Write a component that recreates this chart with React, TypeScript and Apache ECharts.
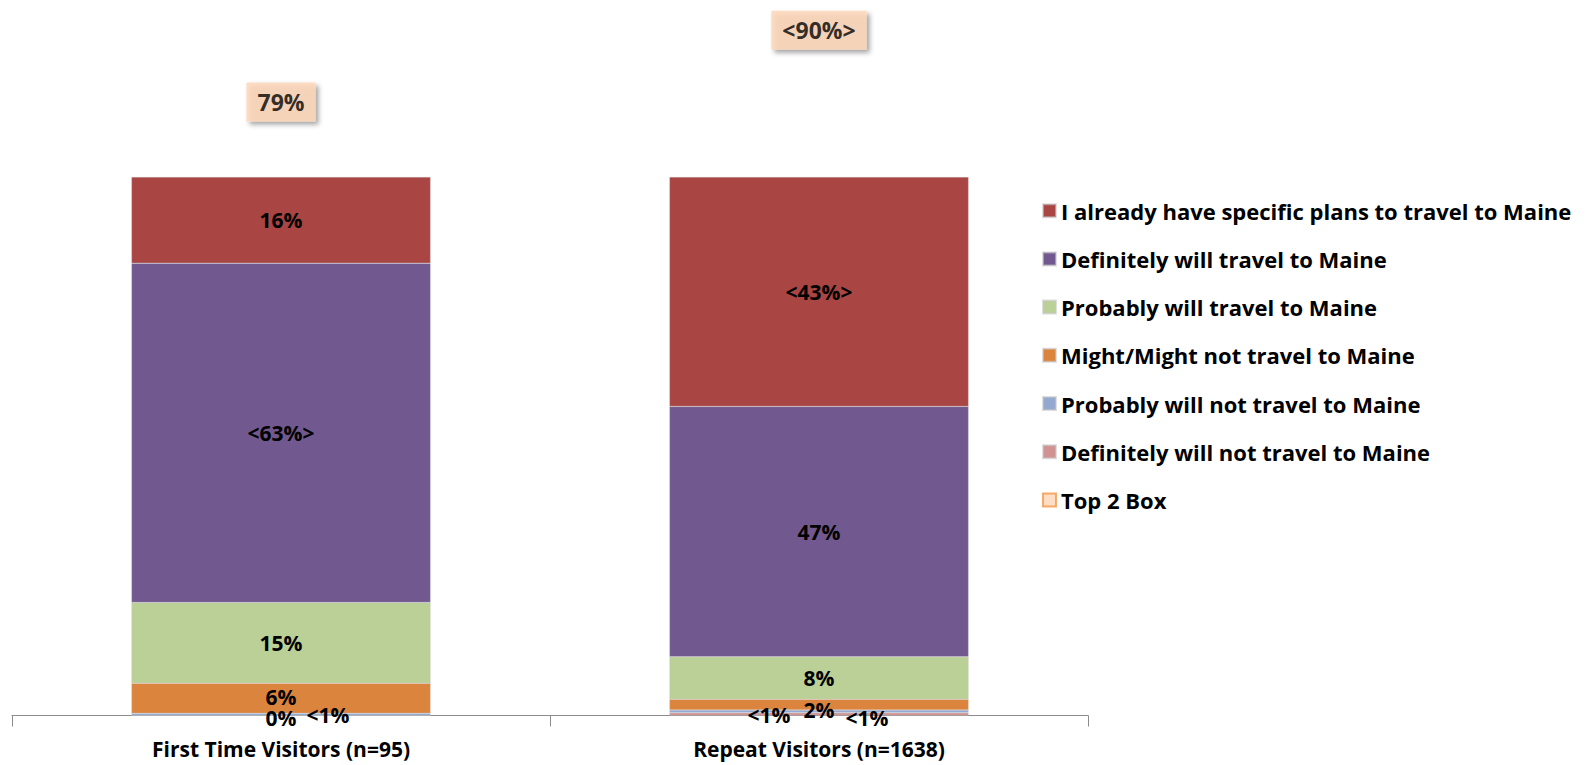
import React, { useEffect, useRef } from "react";
import * as echarts from "echarts";

const categories = ["First Time Visitors (n=95)", "Repeat Visitors (n=1638)"];

const seriesNames = [
  "Definitely will not travel to Maine",
  "Probably will not travel to Maine",
  "Might/Might not travel to Maine",
  "Probably will travel to Maine",
  "Definitely will travel to Maine",
  "I already have specific plans to travel to Maine",
];

const definitelyNot = [0, 0.5];
const probablyNot = [0.4, 0.5];
const mightNot = [5.6, 2.0];
const probably = [15, 7.9];
const definitely = [63, 46.5];
const alreadyPlans = [16, 42.6];
const top2Box = [79, 90];

const definitelyNotLabels = ["0%", "<1%"];
const probablyNotLabels = ["<1%", "<1%"];
const mightNotLabels = ["6%", "2%"];
const probablyLabels = ["15%", "8%"];
const definitelyLabels = ["<63%>", "47%"];
const alreadyPlansLabels = ["16%", "<43%>"];
const top2BoxLabels = ["79%", "<90%>"];

const FONT = "'Open Sans', Lato, sans-serif";

const colors = ["#D19392", "#93A9CF", "#DB843D", "#BBD097", "#71588F", "#A94543"];

// label nudges for tiny segments (relative to segment centre)
const labelOffsets = [
  [[0, 2], [-50, 1]],
  [[47, 1], [48, 7]],
  [[0, -1], [0, 5]],
  [[0, 0], [0, 0]],
  [[0, 0], [0, 0]],
  [[0, 0], [0, 0]],
];

export default function App() {
  const ref = useRef<HTMLDivElement>(null);
  useEffect(() => {
    if (!ref.current) return;
    const chart = echarts.init(ref.current, null, { renderer: "svg" });
    const values = [definitelyNot, probablyNot, mightNot, probably, definitely, alreadyPlans];
    const labels = [
      definitelyNotLabels,
      probablyNotLabels,
      mightNotLabels,
      probablyLabels,
      definitelyLabels,
      alreadyPlansLabels,
    ];
    const barSeries = values.map((vals, s) => ({
      name: seriesNames[s],
      type: "bar",
      stack: "total",
      barWidth: "55.6%",
      itemStyle: { color: colors[s], borderColor: "rgba(200,200,200,0.6)", borderWidth: 0.5 },
      data: vals.map((v, i) => ({
        value: v,
        label: { offset: labelOffsets[s][i] },
      })),
      label: {
        show: true,
        position: "inside",
        color: "#000",
        fontFamily: FONT,
        fontWeight: "bold",
        fontSize: 21,
        lineHeight: 21,
        formatter: (p: any) => labels[s][p.dataIndex],
      },
    }));
    const legendOrder = [...seriesNames].reverse();
    chart.setOption({
      animation: false,
      textStyle: { fontFamily: FONT },
      grid: { left: 12, right: 501, top: 177, bottom: 49.5, containLabel: false },
      legend: {
        orient: "vertical",
        left: 1037,
        top: 194.7,
        itemWidth: 13,
        itemHeight: 13,
        itemGap: 26.2,
        icon: "rect",
        textStyle: {
          fontFamily: FONT,
          fontWeight: "bold",
          fontSize: 22,
          lineHeight: 22,
          color: "#000",
        },
        data: [
          ...legendOrder.map((n) => ({ name: n })),
          {
            name: "Top 2 Box",
            itemStyle: { color: "#FCD5B5", borderColor: "#F79646", borderWidth: 2 },
          },
        ],
      },
      xAxis: {
        type: "category",
        data: categories,
        axisLine: { lineStyle: { color: "#8c8c8c", width: 1 } },
        axisTick: { show: true, length: 11, lineStyle: { color: "#8c8c8c" } },
        axisLabel: {
          color: "#000",
          fontFamily: FONT,
          fontWeight: "bold",
          fontSize: 21,
          lineHeight: 21,
          margin: 23,
        },
      },
      yAxis: [
        { type: "value", min: 0, max: 100, show: false },
        { type: "value", min: -15, max: 67.5, show: false },
      ],
      series: [
        ...barSeries,
        {
          name: "Top 2 Box",
          type: "scatter",
          yAxisIndex: 1,
          clip: false,
          symbol: "rect",
          symbolSize: 1,
          itemStyle: { color: "rgba(0,0,0,0)" },
          data: top2Box,
          z: 10,
          label: {
            show: true,
            position: "inside",
            formatter: (p: any) => top2BoxLabels[p.dataIndex],
            color: "#000",
            fontFamily: FONT,
            fontWeight: "bold",
            fontSize: 23,
            lineHeight: 23,
            backgroundColor: "#FCD5B5",
            padding: [8, 11],
            shadowColor: "rgba(0,0,0,0.45)",
            shadowBlur: 5,
            shadowOffsetX: 3,
            shadowOffsetY: 3,
          },
        },
      ],
    });
    return () => chart.dispose();
  }, []);
  return (
    <div
      ref={ref}
      style={{ position: "fixed", left: 0, top: 0, width: 1589, height: 765, background: "#fff" }}
    />
  );
}
